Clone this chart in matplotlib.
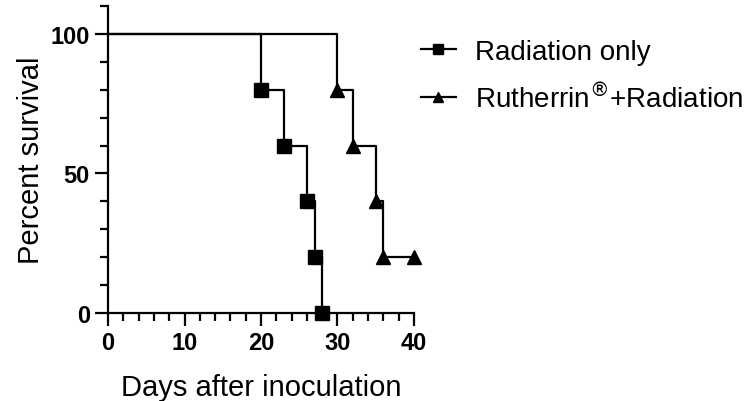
import matplotlib
matplotlib.use("Agg")
import matplotlib.pyplot as plt
from matplotlib.lines import Line2D
from matplotlib.ticker import MultipleLocator

plt.rcParams['font.family'] = ['Liberation Sans', 'DejaVu Sans']

# Kaplan-Meier data (step points: day, percent survival)
rad_days = [0, 20, 23, 26, 27, 28]
rad_surv = [100, 80, 60, 40, 20, 0]
rut_days = [0, 30, 32, 35, 36, 40]
rut_surv = [100, 80, 60, 40, 20, 20]
labels = ["Radiation only", r"Rutherrin$^{\circledR}$+Radiation"]

fig = plt.figure(figsize=(7.47, 4.02), dpi=100)
ax = fig.add_axes([0.1446, 0.219, 0.4096, 0.7636])

lw = 1.6
for days, surv, mk in [(rad_days, rad_surv, 's'), (rut_days, rut_surv, '^')]:
    ax.step(days, surv, where='post', color='black', lw=lw, clip_on=False)
    ax.plot(days[1:], surv[1:], linestyle='none', marker=mk, color='black',
            markersize=9.5, clip_on=False, zorder=5)

ax.set_xlim(0, 40)
ax.set_ylim(0, 110)
ax.set_xticks([0, 10, 20, 30, 40])
ax.set_yticks([0, 50, 100])
ax.xaxis.set_minor_locator(MultipleLocator(2))
ax.yaxis.set_minor_locator(MultipleLocator(10))

for s in ['top', 'right']:
    ax.spines[s].set_visible(False)
for s in ['left', 'bottom']:
    ax.spines[s].set_linewidth(lw)

ax.tick_params(which='major', length=9.5, width=lw, direction='out')
ax.tick_params(which='minor', length=5.5, width=lw, direction='out')
ax.tick_params(labelsize=17)
for t in ax.get_xticklabels() + ax.get_yticklabels():
    t.set_fontweight('bold')

ax.set_xlabel("Days after inoculation", fontsize=21, labelpad=14)
ax.set_ylabel("Percent survival", fontsize=21, labelpad=4)

handles = [Line2D([], [], color='black', lw=lw, marker='s', markersize=7),
           Line2D([], [], color='black', lw=lw, marker='^', markersize=7)]
fig.legend(handles, labels, loc='upper left', bbox_to_anchor=(0.530, 0.963),
           frameon=False, fontsize=20, handlelength=1.25, handletextpad=0.7,
           labelspacing=0.65)

fig.savefig("out.png", dpi=100)
